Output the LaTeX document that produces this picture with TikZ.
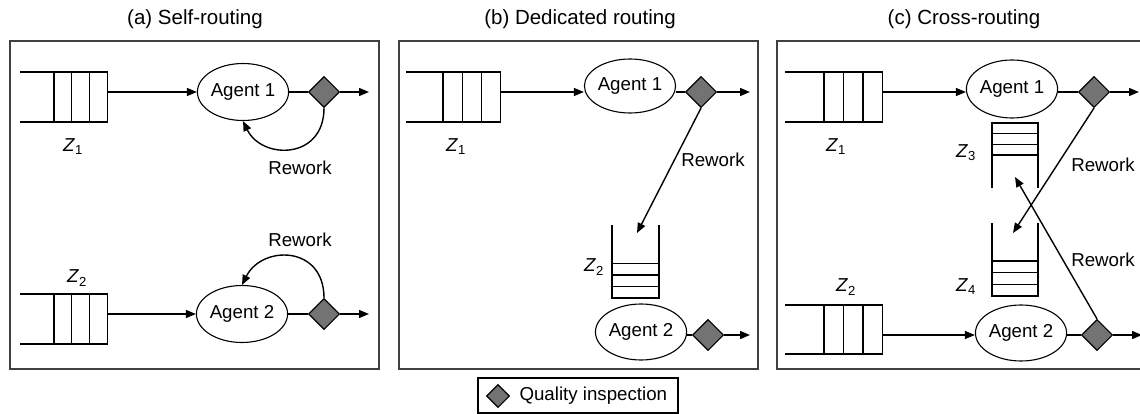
\documentclass[tikz,border=0pt]{standalone}
\usepackage{fontspec}
\setmainfont{Liberation Sans}
\usetikzlibrary{arrows.meta, positioning, shapes.geometric}

% horizontal queue: open left end, first wall, cell width, top, bottom
\newcommand{\hqueue}[5]{%
  \draw[queueline] (#1,#4) -- ({#2+3*#3},#4) -- ({#2+3*#3},#5) -- (#1,#5);
  \foreach \k in {0,1,2}
    \draw[queueline] ({#2+\k*#3},#4) -- ({#2+\k*#3},#5);
}
% vertical queue: left wall, right wall, open end, closed end, line step
\newcommand{\vqueue}[5]{%
  \draw[queueline] (#1,#3) -- (#1,#4) -- (#2,#4) -- (#2,#3);
  \foreach \k in {1,2,3}
    \draw[queueline] (#1,{#4+\k*(#5)}) -- (#2,{#4+\k*(#5)});
}

\tikzset{
  lbl/.style={font=\fontsize{18.7}{21}\selectfont},
  ttl/.style={font=\fontsize{20.5}{24}\selectfont},
  agent/.style={ellipse, draw, line width=1.1pt, minimum width=80pt, minimum height=57pt, inner sep=0pt, lbl},
  check/.style={diamond, draw, line width=1.1pt, fill=black!55, minimum width=31pt, minimum height=31pt, inner sep=0pt},
  flow/.style={line width=1.4pt, -{Triangle[length=10pt,width=8pt]}},
  link/.style={line width=1.4pt},
  panel/.style={draw=black!75, line width=1.6pt},
  queueline/.style={line width=1.2pt},
}

\begin{document}
\begin{tikzpicture}[x=1pt, y=-1pt, every node/.style={lbl}]
    \useasboundingbox (0,0) rectangle (1140,414);

    % (a) self-routing
    \draw[panel] (10,41) rectangle (379,369);
    \node[ttl] (ta) at (195,19) {(a) Self-routing};
    \hqueue{20}{54}{17.7}{72}{122}
    \hqueue{20}{54}{17.7}{294}{344}
    \coordinate (qa1) at (107,92);
    \coordinate (qa2) at (107,314);
    \node[agent] (a1) at (243,92) {Agent 1};
    \node[agent] (a2) at (242,314) {Agent 2};
    \node[check] (da1) at (324,92) {};
    \node[check] (da2) at (324,314) {};
    \coordinate (oa1) at (369,92);
    \coordinate (oa2) at (369,314);
    \draw[flow] (qa1) -- (a1);
    \draw[link] (a1) -- (da1);
    \draw[flow] (da1) -- (oa1);
    \draw[flow] (qa2) -- (a2);
    \draw[link] (a2) -- (da2);
    \draw[flow] (da2) -- (oa2);
    \draw[flow] (da1.south) .. controls (324,160) and (262,160) .. (a1.south);
    \draw[flow] (da2.north) .. controls (324,245) and (262,245) .. (a2.north);
    \node (ra1) at (300,168) {Rework};
    \node (ra2) at (300,240) {Rework};
    \node (za1) at (73,147) {\textit{Z}\textsubscript{1}};
    \node (za2) at (77,278) {\textit{Z}\textsubscript{2}};

    % (b) dedicated routing
    \draw[panel] (399,41) rectangle (758,369);
    \node[ttl] (tb) at (580,19) {(b) Dedicated routing};
    \hqueue{406}{443}{19.2}{72}{122}
    \vqueue{612}{659}{225}{298}{-11.5}
    \coordinate (qb1) at (501,92);
    \node[agent, minimum width=76pt, minimum height=54pt] (b1) at (630,86) {Agent 1};
    \node[check] (db1) at (701,92) {};
    \coordinate (ob1) at (750,92);
    \draw[flow] (qb1) -- (b1.west |- qb1);
    \draw[link] (b1.east |- db1) -- (db1);
    \draw[flow] (db1) -- (ob1);
    \coordinate (zb2) at (637,233);
    \draw[flow] (db1.south) -- (zb2);
    \node (rb1) at (713,160) {Rework};
    \node (zb1) at (456,147) {\textit{Z}\textsubscript{1}};
    \node (zb2l) at (594,267) {\textit{Z}\textsubscript{2}};
    \node[agent, minimum width=74pt, minimum height=56pt] (b2) at (641,332) {Agent 2};
    \node[check] (db2) at (708,335) {};
    \coordinate (ob2) at (750,335);
    \draw[link] (b2.east |- db2) -- (db2);
    \draw[flow] (db2) -- (ob2);

    % (c) cross-routing
    \draw[panel] (777,41) rectangle (1146,369);
    \node[ttl] (tc) at (964,19) {(c) Cross-routing};
    \hqueue{785}{824}{19.5}{72}{122}
    \hqueue{785}{824}{19.5}{305}{354}
    \vqueue{992}{1038}{188}{123}{10.7}
    \vqueue{992}{1038}{223}{296}{-11.7}
    \coordinate (qc1) at (883,92);
    \coordinate (qc2) at (883,335);
    \node[agent, minimum width=79pt, minimum height=58pt] (c1) at (1012,89) {Agent 1};
    \node[agent, minimum width=76pt, minimum height=56pt] (c2) at (1021,333) {Agent 2};
    \node[check] (dc1) at (1094,92) {};
    \node[check] (dc2) at (1097,335) {};
    \coordinate (oc1) at (1139,92);
    \coordinate (oc2) at (1142,335);
    \draw[flow] (qc1) -- (c1.west |- qc1);
    \draw[link] (c1.east |- dc1) -- (dc1);
    \draw[flow] (dc1) -- (oc1);
    \draw[flow] (qc2) -- (c2.west |- qc2);
    \draw[link] (c2.east |- dc2) -- (dc2);
    \draw[flow] (dc2) -- (oc2);
    \coordinate (zc4) at (1013,233);
    \coordinate (zc3) at (1015,177);
    \draw[flow] (dc1.south) -- (zc4);
    \draw[flow] (dc2.north) -- (zc3);
    \node (rc1) at (1103,165) {Rework};
    \node (rc2) at (1103,260) {Rework};
    \node (zc1) at (836,147) {\textit{Z}\textsubscript{1}};
    \node (zc2) at (846,287) {\textit{Z}\textsubscript{2}};
    \node (zc3l) at (966,153) {\textit{Z}\textsubscript{3}};
    \node (zc4l) at (966,287) {\textit{Z}\textsubscript{4}};

    % legend
    \node[draw, line width=1.3pt, minimum width=200pt, minimum height=35pt, inner sep=0pt] (key) at (578,395.5) {};
    \node[check, minimum width=23pt, minimum height=23pt] (keyd) at (498,396) {};
    \node[right] (keyt) at (516,396) {Quality inspection};
\end{tikzpicture}
\end{document}
